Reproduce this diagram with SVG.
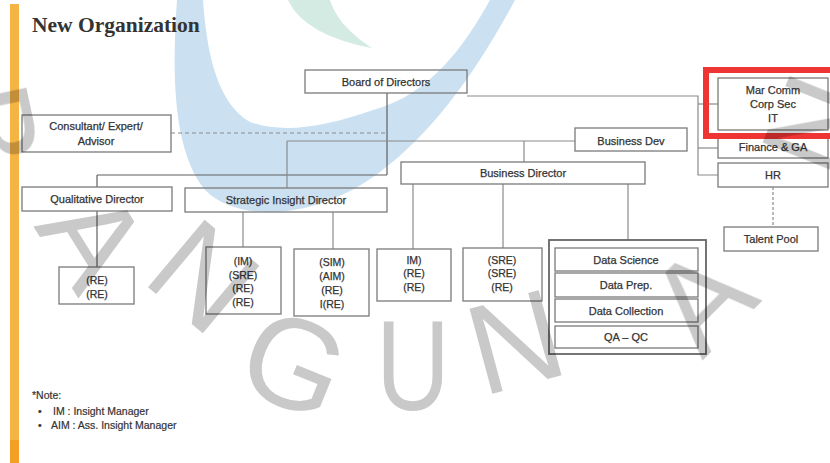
<svg xmlns="http://www.w3.org/2000/svg" width="830" height="463" viewBox="0 0 830 463">
<style>
.box{fill:none;stroke:#7a7a7a;stroke-width:1.3}
.ln{fill:none;stroke:#8a8a8a;stroke-width:1.2}
.dk{stroke:#5f5f5f}
.t{font-family:"Liberation Sans",Arial,sans-serif;font-size:11px;fill:#333;stroke:#333;stroke-width:0.25;text-anchor:middle}
.s{font-size:10.5px}
.n{font-family:"Liberation Sans",Arial,sans-serif;font-size:10.5px;fill:#333;stroke:#333;stroke-width:0.2}
.wm{font-family:"Liberation Sans",Arial,sans-serif;font-size:128px;fill:#c9c9c9;text-anchor:middle}
</style>
<rect width="830" height="463" fill="#ffffff"/>
<g id="watermark-logo">
<path d="M177,0 C172,70 172,150 205,190 C240,225 320,218 380,172 C430,135 475,75 515,0 L490,0 C465,45 430,95 373,110 C330,125 285,135 250,122 C220,105 207,60 203,0 Z" fill="#cbe1f1"/>
<path d="M288,0 C300,25 330,40 372,48 C345,30 335,15 330,0 Z" fill="#d4ebe3"/>
</g>
<rect x="10" y="4" width="9" height="436" fill="#f6b445"/>
<rect x="10" y="440" width="9" height="23" fill="#f3a024"/>
<text x="32" y="32" font-family="Liberation Serif, serif" font-weight="bold" font-size="21.5" fill="#333">New Organization</text>

<g id="connectors">
<line class="ln dk" x1="387" y1="93" x2="387" y2="175"/>
<line class="ln dk" x1="97" y1="175" x2="387" y2="175"/>
<line class="ln dk" x1="97" y1="175" x2="97" y2="187"/>
<line class="ln" x1="171" y1="133" x2="387" y2="133" stroke-dasharray="4 3"/>
<line class="ln" x1="287" y1="141" x2="575" y2="141"/>
<line class="ln" x1="287" y1="141" x2="287" y2="188"/>
<line class="ln" x1="524" y1="141" x2="524" y2="162"/>
<polyline class="ln" points="467,96 698,96 698,175 718,175"/>
<line class="ln" x1="698" y1="104" x2="718" y2="104"/>
<line class="ln" x1="698" y1="148" x2="718" y2="148"/>
<line class="ln" x1="773" y1="187" x2="773" y2="227" stroke-dasharray="3 2" stroke-width="1.5"/>
<line class="ln dk" x1="97" y1="211" x2="97" y2="267"/>
<line class="ln" x1="243" y1="212" x2="243" y2="247"/>
<line class="ln" x1="333" y1="212" x2="333" y2="249"/>
<line class="ln" x1="413" y1="184" x2="413" y2="249"/>
<line class="ln" x1="503" y1="184" x2="503" y2="248"/>
<line class="ln" x1="628" y1="184" x2="628" y2="240"/>
</g>

<g id="board"><rect class="box" x="305" y="70" width="162" height="23"/><text class="t" x="386" y="86">Board of Directors</text></g>
<g id="consultant"><rect class="box" x="22" y="115" width="149" height="37"/><text class="t" x="96" y="130">Consultant/ Expert/</text><text class="t" x="96" y="145">Advisor</text></g>
<g id="business-dev"><rect class="box" x="575" y="128" width="112" height="23"/><text class="t" x="631" y="145">Business Dev</text></g>
<g id="business-director"><rect class="box" x="401" y="162" width="244" height="22"/><text class="t" x="523" y="177">Business Director</text></g>
<g id="marcomm"><rect class="box" x="718" y="78" width="110" height="52"/><text class="t" x="773" y="94">Mar Comm</text><text class="t" x="773" y="108">Corp Sec</text><text class="t" x="773" y="122">IT</text></g>
<g id="finance"><rect class="box" x="718" y="137" width="110" height="21"/><text class="t" x="773" y="151">Finance &amp; GA</text></g>
<g id="hr"><rect class="box" x="718" y="163" width="110" height="24"/><text class="t" x="773" y="179">HR</text></g>
<g id="talent-pool"><rect class="box" x="724" y="227" width="94" height="24"/><text class="t" x="771" y="243">Talent Pool</text></g>
<g id="qualitative"><rect class="box" x="22" y="187" width="150" height="24"/><text class="t" x="97" y="203">Qualitative Director</text></g>
<g id="strategic"><rect class="box" x="185" y="188" width="202" height="24"/><text class="t" x="286" y="204">Strategic Insight Director</text></g>
<g id="qual-team"><rect class="box" x="59" y="267" width="75" height="37"/><text class="t s" x="97" y="284">(RE)</text><text class="t s" x="97" y="298">(RE)</text></g>
<g id="sid-team1"><rect class="box" x="206" y="247" width="75" height="67"/><text class="t s" x="243" y="265">(IM)</text><text class="t s" x="243" y="278.5">(SRE)</text><text class="t s" x="243" y="292">(RE)</text><text class="t s" x="243" y="305.5">(RE)</text></g>
<g id="sid-team2"><rect class="box" x="294" y="249" width="75" height="67"/><text class="t s" x="332" y="266">(SIM)</text><text class="t s" x="332" y="280">(AIM)</text><text class="t s" x="332" y="294">(RE)</text><text class="t s" x="332" y="308">I(RE)</text></g>
<g id="bd-team1"><rect class="box" x="377" y="249" width="74" height="52"/><text class="t s" x="414" y="263.5">IM)</text><text class="t s" x="414" y="277">(RE)</text><text class="t s" x="414" y="290.5">(RE)</text></g>
<g id="bd-team2"><rect class="box" x="463" y="248" width="79" height="53"/><text class="t s" x="502" y="263.5">(SRE)</text><text class="t s" x="502" y="277">(SRE)</text><text class="t s" x="502" y="290.5">(RE)</text></g>
<g id="data-team">
<rect x="549" y="240" width="157" height="114" fill="none" stroke="#666" stroke-width="1.8"/>
<rect class="box" x="555" y="248" width="143" height="23"/><text class="t" x="626" y="264">Data Science</text>
<rect class="box" x="555" y="273" width="143" height="24"/><text class="t" x="626" y="289">Data Prep.</text>
<rect class="box" x="555" y="299" width="143" height="23"/><text class="t" x="626" y="315">Data Collection</text>
<rect class="box" x="555" y="326" width="143" height="22"/><text class="t" x="626" y="341">QA – QC</text>
</g>
<rect x="706" y="70" width="130" height="66" fill="none" stroke="#ef3434" stroke-width="6"/>

<g id="note">
<text class="n" x="32" y="399">*Note:</text>
<text class="n" x="38" y="415">•</text><text class="n" x="53" y="415">IM : Insight Manager</text>
<text class="n" x="38" y="429">•</text><text class="n" x="51" y="429">AIM : Ass. Insight Manager</text>
</g>

<g id="watermark-letters" style="mix-blend-mode:multiply">
<text class="wm" transform="translate(-8,128) rotate(78)" y="46">B</text>
<text class="wm" transform="translate(95,238) rotate(58)" y="46">A</text>
<text class="wm" transform="translate(205,275) rotate(40)" y="46">N</text>
<text class="wm" transform="translate(295,362) rotate(22)" y="46">G</text>
<text class="wm" transform="translate(413,364) scale(0.8,1)" y="46">U</text>
<text class="wm" transform="translate(515,340) rotate(-15)" y="46">N</text>
<text class="wm" transform="translate(700,298) rotate(-45)" y="46">A</text>
<text class="wm" transform="translate(815,125) rotate(-68)" y="46">N</text>
</g>
</svg>
